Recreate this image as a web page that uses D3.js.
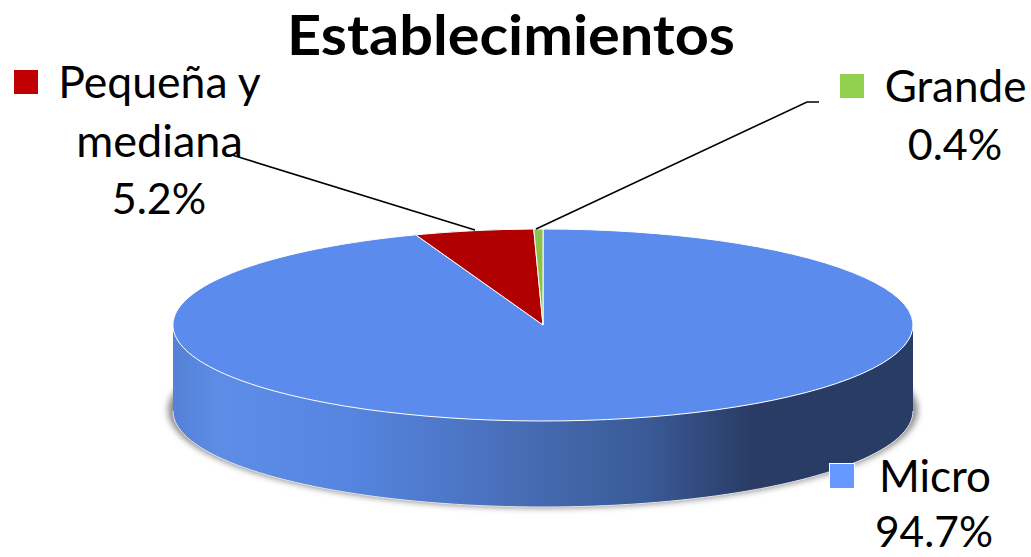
<!DOCTYPE html>
<html><head><meta charset="utf-8">
<script src="https://cdn.jsdelivr.net/npm/d3@7"></script>
<style>html,body{margin:0;padding:0;background:#fff}svg{display:block}text{font-family:Lato,"Open Sans",sans-serif;fill:#000}</style>
</head><body><svg id="c" width="1031" height="557"></svg>
<script>
const titleText = "Establecimientos";
const categories = ["Micro", "Pequeña y mediana", "Grande"];
const shareValues = [94.7, 5.2, 0.4];
const sliceColors = ["#5B8BEC", "#B00000", "#8CC24A"];
const legendColors = ["#6699FF", "#C00000", "#92D050"];
const valueLabels = ["94.7%", "5.2%", "0.4%"];
const wallStops = [[0,"#5580D6"],[0.06,"#5D8DE6"],[0.24,"#5585E0"],[0.44,"#4A70BC"],[0.54,"#4265A8"],[0.64,"#3A5A97"],[0.78,"#2A3C66"],[1,"#293C66"]];

const W=1031,H=557,cx=543,cy=325,rx=370,ry=96,depth=86;
const svg=d3.select("#c");
const defs=svg.append("defs");
const g=defs.append("linearGradient").attr("id","wall").attr("gradientUnits","userSpaceOnUse")
  .attr("x1",cx-rx).attr("x2",cx+rx).attr("y1",0).attr("y2",0);
wallStops.forEach(s=>g.append("stop").attr("offset",s[0]).attr("stop-color",s[1]));
const f=defs.append("filter").attr("id","soft").attr("x","-5%").attr("y","-10%").attr("width","110%").attr("height","120%");
f.append("feGaussianBlur").attr("stdDeviation",3);

const pie=d3.pie().sort(null).value(d=>d);
const arcs=pie(shareValues);
const arc=d3.arc().innerRadius(0).outerRadius(1);
const xs=d3.scaleLinear().domain([-1,1]).range([cx-rx,cx+rx]);
const ys=d3.scaleLinear().domain([-1,1]).range([cy-ry,cy+ry]);

// drop shadow beneath the disc
svg.append("ellipse").attr("cx",cx).attr("cy",cy+depth-1).attr("rx",rx+5).attr("ry",ry+2)
  .attr("fill","#8c8c8c").attr("filter","url(#soft)");
// wall: lower half of the ellipse extruded by depth
const wallAngles=d3.range(0,181,2).map(a=>a*Math.PI/180);
const upperEdge=wallAngles.map(a=>[xs(Math.cos(a)),ys(Math.sin(a))]);
const lowerEdge=wallAngles.map(a=>[xs(Math.cos(a)),ys(Math.sin(a))+depth]).reverse();
svg.append("path").attr("d",d3.line()(upperEdge.concat(lowerEdge))+"Z").attr("fill","url(#wall)");
svg.append("path").attr("d",d3.line()(lowerEdge)).attr("fill","none").attr("stroke","#e4e4e4").attr("stroke-width",1);

// top face
svg.append("g").attr("transform",`translate(${cx},${cy}) scale(${rx},${ry})`)
  .selectAll("path").data(arcs).join("path")
  .attr("d",arc).attr("fill",(d,i)=>sliceColors[i])
  .attr("stroke","#fff").attr("stroke-width",1).attr("vector-effect","non-scaling-stroke");

// leader lines
const leaders=[[[232,155],[475,230]],[[536,229],[807,102],[819,102]]];
svg.append("g").selectAll("path").data(leaders).join("path")
  .attr("d",d=>d3.line()(d)).attr("fill","none").attr("stroke","#000").attr("stroke-width",1.6);

// title
svg.append("text").attr("x",511).attr("y",55).attr("text-anchor","middle")
  .attr("font-size",55.5).attr("font-weight",700).attr("textLength",448).attr("lengthAdjust","spacingAndGlyphs").text(titleText);

// labels: [x, baseline, text, size]
const labels=[
 {i:0,mx:829.5,my:463.5,lines:[[935,492,categories[0],44],[934,547,valueLabels[0],42.5]]},
 {i:1,mx:13.5,my:69.5,lines:[[159.5,98,"Pequeña y",44.5],[159.5,157,"mediana",45],[159,214,valueLabels[1],43]]},
 {i:2,mx:839.5,my:73.5,lines:[[955.5,102,categories[2],44],[955,160,valueLabels[2],43]]}
];
const lg=svg.append("g").selectAll("g").data(labels).join("g");
lg.append("rect").attr("x",d=>d.mx).attr("y",d=>d.my).attr("width",25).attr("height",25)
  .attr("fill",d=>legendColors[d.i]).attr("stroke","#fff").attr("stroke-width",1);
lg.selectAll("text").data(d=>d.lines).join("text")
  .attr("x",d=>d[0]).attr("y",d=>d[1]).attr("text-anchor","middle").attr("font-size",d=>d[3]).text(d=>d[2]);
</script></body></html>
